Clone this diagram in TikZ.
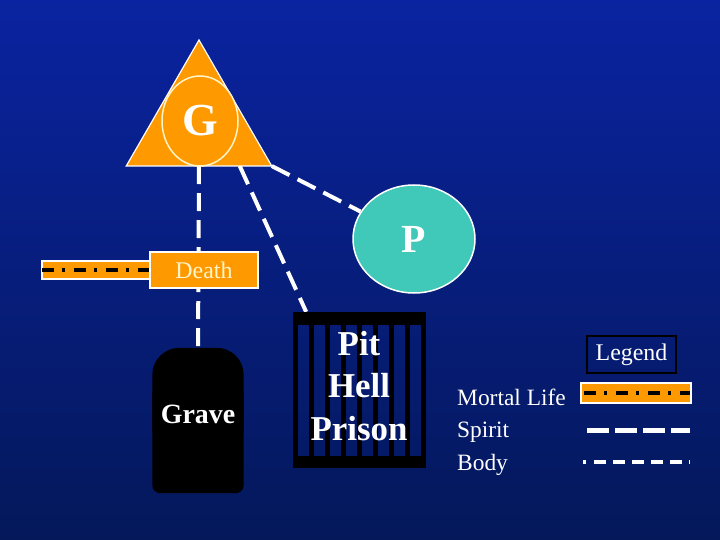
\documentclass[tikz,border=0pt]{standalone}
\usepackage{fontspec}
\setmainfont{Liberation Serif}
\usetikzlibrary{shapes.geometric,calc}
\definecolor{bgtop}{HTML}{0A23A0}
\definecolor{bgbot}{HTML}{04185A}
\definecolor{lifeorange}{HTML}{FF9900}
\definecolor{paradise}{HTML}{40C8B8}
\definecolor{cream}{HTML}{FFF5C8}
\pgfdeclarelayer{back}
\pgfdeclarelayer{lines}
\pgfsetlayers{back,lines,main}

\begin{document}
\begin{tikzpicture}[x=1bp,y=-1bp,
  spiritline/.style={white,line width=4bp,dash pattern=on 20bp off 9bp},
  bodyline/.style={white,line width=4bp,dash pattern=on 18bp off 9bp},
  mortalline/.style={black,line width=4.5bp,dash pattern=on 12bp off 8bp on 3bp off 9bp},
  orangebar/.style={fill=lifeorange,draw=white,line width=1.5bp},
  boldtext/.style={text=white,inner sep=0pt,font=\bfseries\fontsize{#1}{#1}\selectfont},
  legendtext/.style={text=white,inner sep=0pt,font=\fontsize{23.5}{26}\selectfont}]
\useasboundingbox (0,0) rectangle (720,540);
\begin{pgfonlayer}{back}
\shade[top color=bgtop,bottom color=bgbot] (0,0) rectangle (720,540);
\end{pgfonlayer}

% god and paradise
\node[regular polygon,regular polygon sides=3,minimum size=168bp,inner sep=0pt,outer sep=0pt,
      fill=lifeorange,draw=white,line width=1.2bp] (tri) at (199,124) {};
\node[ellipse,minimum width=76bp,minimum height=90bp,inner sep=0pt,fill=lifeorange,
      draw=cream,line width=1.5bp,boldtext=46] (god) at (200,121) {G};
\node[ellipse,minimum width=122bp,minimum height=108bp,inner sep=0pt,fill=paradise,
      draw=white,line width=1.5bp,boldtext=40] (P) at (414,239) {P};

% mortal life and death
\coordinate (birth) at (42,270);
\draw[orangebar] (42,261) rectangle (150,279);
\node[orangebar,minimum width=108bp,minimum height=36bp,inner sep=0pt,text=cream,
      font=\fontsize{24}{24}\selectfont] (death) at (204,270) {Death};
\draw[mortalline] (birth) -- (death.west);

% grave
\node[minimum width=91bp,minimum height=145bp,inner sep=0pt] (grave) at (198,420.5) {};
\fill[black,rounded corners=27bp] (grave.north west) rectangle ($(grave.east)+(0,35)$);
\fill[black,rounded corners=8bp] ($(grave.west)+(0,-35)$) rectangle (grave.south east);
\node[boldtext=28] (gravelabel) at (198,414) {Grave};

% prison with bars
\node[minimum width=133bp,minimum height=156bp,inner sep=0pt] (prison) at (359.5,390) {};
\fill[black] (prison.north west) rectangle ++(133,13);
\fill[black] (prison.south west) rectangle ++(133,-12);
\foreach \i in {0,...,8}
  \fill[black] ($(prison.north west)+(16*\i,0)$) rectangle ++(5,156);
\node[text=white,inner sep=0pt,font=\bfseries\fontsize{35}{42.5}\selectfont,align=center] (pitlabel) at (359,386) {Pit\\Hell\\Prison};

% connectors
\begin{pgfonlayer}{lines}
\draw[bodyline] (tri.south) -- (grave.north);
\draw[spiritline] ($(tri.corner 2)!0.78!(tri.corner 3)$) -- ($(prison.north west)!0.1!(prison.north east)$);
\draw[spiritline] (tri.corner 3) -- (P);
\end{pgfonlayer}

% legend
\node[draw=black,line width=1.5bp,minimum width=89bp,minimum height=37bp,legendtext,font=\fontsize{24}{26}\selectfont] (legend) at (631.5,354.5) {Legend};
\node[legendtext,anchor=base west] (mortallabel) at (457,405) {Mortal Life};
\node[legendtext,anchor=base west] (spiritlabel) at (457,437.5) {Spirit};
\node[legendtext,anchor=base west] (bodylabel) at (457,470) {Body};
\draw[orangebar] (581,383) rectangle (691,403);
\draw[mortalline] (584,393) -- (690,393);
\draw[spiritline,line width=5bp,dash pattern=on 21.5bp off 6.5bp] (587,430) -- (690,430);
\draw[white,line width=4.5bp] (583,462) -- (586,462);
\draw[bodyline,line width=4.5bp,dash pattern=on 12bp off 7bp] (594,462) -- (690,462);
\end{tikzpicture}
\end{document}
